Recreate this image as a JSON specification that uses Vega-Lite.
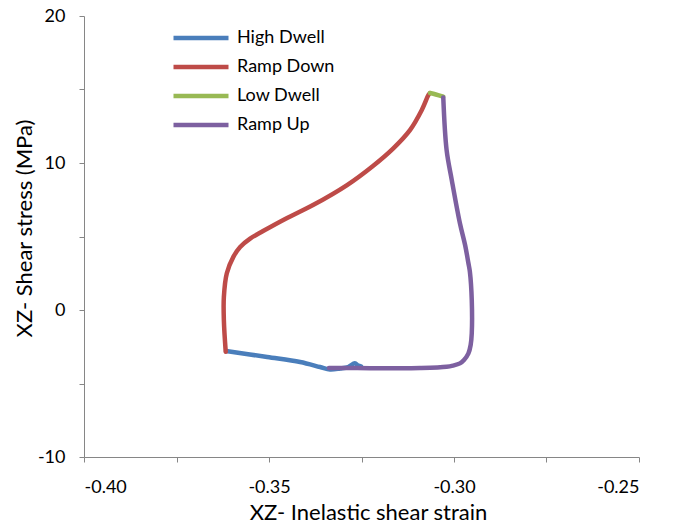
{
  "$schema": "https://vega.github.io/schema/vega-lite/v6.json",
  "autosize": "none",
  "width": 555,
  "height": 441,
  "padding": {"left": 84, "top": 16, "right": 34, "bottom": 70},
  "background": "white",
  "config": {
    "view": {"stroke": null},
    "font": "Lato",
    "axis": {"grid": false, "domainColor": "#868686", "tickColor": "#868686", "tickSize": 5, "labelColor": "#000000", "titleColor": "#000000", "labelFont": "Lato", "titleFont": "Lato", "labelFontSize": 18, "titleFontSize": 22, "titleFontWeight": "normal"}
  },
  "data": {
    "values": [
      {"series": "High Dwell", "i": 1, "strain": -0.3616, "stress": -2.79},
      {"series": "High Dwell", "i": 2, "strain": -0.3505, "stress": -3.20},
      {"series": "High Dwell", "i": 3, "strain": -0.3416, "stress": -3.54},
      {"series": "High Dwell", "i": 4, "strain": -0.3362, "stress": -3.88},
      {"series": "High Dwell", "i": 5, "strain": -0.3335, "stress": -4.05},
      {"series": "High Dwell", "i": 6, "strain": -0.3308, "stress": -3.98},
      {"series": "High Dwell", "i": 7, "strain": -0.3286, "stress": -3.88},
      {"series": "High Dwell", "i": 8, "strain": -0.3268, "stress": -3.63},
      {"series": "High Dwell", "i": 9, "strain": -0.3259, "stress": -3.78},
      {"series": "High Dwell", "i": 10, "strain": -0.3251, "stress": -3.84},
      {"series": "Ramp Down", "i": 1, "strain": -0.3617, "stress": -2.84},
      {"series": "Ramp Down", "i": 2, "strain": -0.3622, "stress": -0.68},
      {"series": "Ramp Down", "i": 3, "strain": -0.3622, "stress": 0.88},
      {"series": "Ramp Down", "i": 4, "strain": -0.3614, "stress": 2.50},
      {"series": "Ramp Down", "i": 5, "strain": -0.3596, "stress": 3.63},
      {"series": "Ramp Down", "i": 6, "strain": -0.3578, "stress": 4.29},
      {"series": "Ramp Down", "i": 7, "strain": -0.3551, "stress": 4.86},
      {"series": "Ramp Down", "i": 8, "strain": -0.3516, "stress": 5.37},
      {"series": "Ramp Down", "i": 9, "strain": -0.3451, "stress": 6.26},
      {"series": "Ramp Down", "i": 10, "strain": -0.3381, "stress": 7.14},
      {"series": "Ramp Down", "i": 11, "strain": -0.3289, "stress": 8.50},
      {"series": "Ramp Down", "i": 12, "strain": -0.3219, "stress": 9.80},
      {"series": "Ramp Down", "i": 13, "strain": -0.3164, "stress": 11.0},
      {"series": "Ramp Down", "i": 14, "strain": -0.3119, "stress": 12.24},
      {"series": "Ramp Down", "i": 15, "strain": -0.3087, "stress": 13.61},
      {"series": "Ramp Down", "i": 16, "strain": -0.3069, "stress": 14.63},
      {"series": "Ramp Down", "i": 17, "strain": -0.3065, "stress": 14.76},
      {"series": "Low Dwell", "i": 1, "strain": -0.3065, "stress": 14.76},
      {"series": "Low Dwell", "i": 2, "strain": -0.3049, "stress": 14.66},
      {"series": "Low Dwell", "i": 3, "strain": -0.3029, "stress": 14.51},
      {"series": "Ramp Up", "i": 1, "strain": -0.3029, "stress": 14.46},
      {"series": "Ramp Up", "i": 2, "strain": -0.3020, "stress": 10.88},
      {"series": "Ramp Up", "i": 3, "strain": -0.3006, "stress": 8.84},
      {"series": "Ramp Up", "i": 4, "strain": -0.2984, "stress": 5.90},
      {"series": "Ramp Up", "i": 5, "strain": -0.2970, "stress": 4.42},
      {"series": "Ramp Up", "i": 6, "strain": -0.2961, "stress": 3.18},
      {"series": "Ramp Up", "i": 7, "strain": -0.2957, "stress": 2.59},
      {"series": "Ramp Up", "i": 8, "strain": -0.2952, "stress": 0.68},
      {"series": "Ramp Up", "i": 9, "strain": -0.2952, "stress": -1.59},
      {"series": "Ramp Up", "i": 10, "strain": -0.2955, "stress": -2.38},
      {"series": "Ramp Up", "i": 11, "strain": -0.2961, "stress": -2.95},
      {"series": "Ramp Up", "i": 12, "strain": -0.2973, "stress": -3.40},
      {"series": "Ramp Up", "i": 13, "strain": -0.2984, "stress": -3.63},
      {"series": "Ramp Up", "i": 14, "strain": -0.3003, "stress": -3.78},
      {"series": "Ramp Up", "i": 15, "strain": -0.3020, "stress": -3.86},
      {"series": "Ramp Up", "i": 16, "strain": -0.3092, "stress": -3.95},
      {"series": "Ramp Up", "i": 17, "strain": -0.3146, "stress": -3.97},
      {"series": "Ramp Up", "i": 18, "strain": -0.3227, "stress": -3.96},
      {"series": "Ramp Up", "i": 19, "strain": -0.3281, "stress": -3.95},
      {"series": "Ramp Up", "i": 20, "strain": -0.3338, "stress": -3.95}
    ]
  },
  "mark": {"type": "line", "strokeWidth": 4.5, "interpolate": "catmull-rom", "strokeCap": "round", "strokeJoin": "round"},
  "encoding": {
    "x": {
      "field": "strain", "type": "quantitative",
      "scale": {"domain": [-0.4, -0.25], "nice": false, "zero": false},
      "axis": {
        "title": "XZ- Inelastic shear strain",
        "values": [-0.4, -0.375, -0.35, -0.325, -0.3, -0.275, -0.25],
        "labelExpr": "round(datum.value*1000) % 50 == 0 ? replace(format(datum.value, '.2f'), '\u2212', '-') : ''",
        "labelPadding": 16,
        "titleX": 284,
        "titleY": 45
      }
    },
    "y": {
      "field": "stress", "type": "quantitative",
      "scale": {"domain": [-10, 20], "nice": false, "zero": false},
      "axis": {
        "title": "XZ- Shear stress (MPa)",
        "values": [-10, -5, 0, 5, 10, 15, 20],
        "labelExpr": "datum.value % 10 == 0 ? replace(format(datum.value, 'd'), '\u2212', '-') : ''",
        "labelPadding": 14,
        "titleX": -48,
        "titleY": 212
      }
    },
    "color": {
      "field": "series", "type": "nominal",
      "scale": {"domain": ["High Dwell", "Ramp Down", "Low Dwell", "Ramp Up"], "range": ["#4A7EBB", "#BE4B48", "#98B954", "#7D60A0"]},
      "legend": {
        "title": null, "orient": "none", "legendX": 80.5, "legendY": 13,
        "symbolType": "M0,0H10", "symbolSize": 121, "symbolStrokeWidth": 4.5,
        "labelFontSize": 18, "labelFont": "Lato", "labelColor": "#000000", "rowPadding": 11, "labelOffset": 54.5
      }
    },
    "order": {"field": "i", "type": "quantitative"}
  }
}
